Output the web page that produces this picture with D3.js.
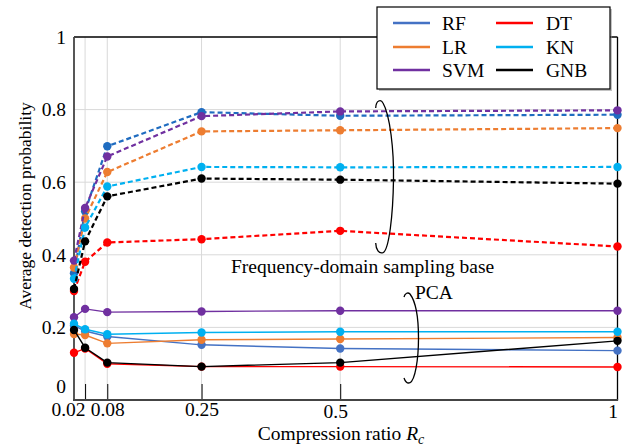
<!DOCTYPE html>
<html><head><meta charset="utf-8">
<script src="https://cdn.jsdelivr.net/npm/d3@7"></script>
<style>
body{margin:0;background:#fff}
svg{display:block}
svg text{font-family:"Liberation Serif","Tinos","Times New Roman","DejaVu Serif","Noto Serif",serif !important;fill:#000}
</style>
</head><body>
<svg id="c" width="630" height="446" font-family="Liberation Serif, DejaVu Serif, serif"></svg>
<script>
// ---------- data ----------
const ratios = [0.02, 0.04, 0.08, 0.25, 0.5, 1];
const xTickValues = [0.02, 0.04, 0.08, 0.25, 0.5, 1];
const xTickLabels = ["0.02", "", "0.08", "0.25", "0.5", "1"];
const yTickValues = [0, 0.2, 0.4, 0.6, 0.8, 1];
const yTickLabels = ["0", "0.2", "0.4", "0.6", "0.8", "1"];
const classifiers = ["RF", "LR", "SVM", "DT", "KN", "GNB"];

// Frequency-domain sampling base (dashed)
const fdRF  = [0.349, 0.520, 0.699, 0.793, 0.783, 0.786];
const fdLR  = [0.365, 0.500, 0.628, 0.740, 0.743, 0.749];
const fdSVM = [0.384, 0.529, 0.671, 0.782, 0.795, 0.798];
const fdDT  = [0.300, 0.381, 0.434, 0.443, 0.466, 0.423];
const fdKN  = [0.334, 0.475, 0.588, 0.642, 0.641, 0.642];
const fdGNB = [0.306, 0.437, 0.561, 0.610, 0.607, 0.596];

// PCA (solid)
const pcaRF  = [0.205, 0.190, 0.175, 0.152, 0.142, 0.136];
const pcaLR  = [0.182, 0.179, 0.156, 0.166, 0.168, 0.172];
const pcaSVM = [0.228, 0.251, 0.242, 0.244, 0.246, 0.246];
const pcaDT  = [0.130, 0.142, 0.100, 0.092, 0.092, 0.091];
const pcaKN  = [0.210, 0.195, 0.181, 0.186, 0.188, 0.188];
const pcaGNB = [0.193, 0.144, 0.103, 0.092, 0.103, 0.163];

// ---------- styles ----------
const colors = {RF:"#4472C4", LR:"#ED7D31", SVM:"#7030A0", DT:"#FF0000", KN:"#00B0F0", GNB:"#000000"};
const dashColors = {RF:"#1F6CC0", LR:"#ED7D31", SVM:"#7030A0", DT:"#FF0000", KN:"#00B0F0", GNB:"#000000"};
const fdData  = {RF:fdRF, LR:fdLR, SVM:fdSVM, DT:fdDT, KN:fdKN, GNB:fdGNB};
const pcaData = {RF:pcaRF, LR:pcaLR, SVM:pcaSVM, DT:pcaDT, KN:pcaKN, GNB:pcaGNB};
const FONT = '"Liberation Serif","Tinos","Times New Roman","DejaVu Serif",serif';
const FS = 19.5;

const L = 74, R = 617.5, T = 37, B = 400;
const svg = d3.select("#c");
const x = d3.scaleLinear().domain([0.02, 1]).range([L, R]);
const y = d3.scaleLinear().domain([0, 1]).range([B, T]);

// grid
const g = svg.append("g");
g.selectAll("line.vg").data(xTickValues.slice(1, -1)).join("line")
  .attr("x1", d => x(d)).attr("x2", d => x(d)).attr("y1", T).attr("y2", B)
  .attr("stroke", "#d9d9d9").attr("stroke-width", 1);
g.selectAll("line.hg").data(yTickValues.slice(1, -1)).join("line")
  .attr("x1", L).attr("x2", R).attr("y1", d => y(d)).attr("y2", d => y(d))
  .attr("stroke", "#d9d9d9").attr("stroke-width", 1);

// x axis
const xAxis = d3.axisBottom(x).tickValues(xTickValues)
  .tickFormat((d, i) => xTickLabels[i]).tickSize(-16).tickPadding(3);
const xa = svg.append("g").attr("transform", `translate(0,${B})`).call(xAxis);
xa.attr("font-family", null).attr("font-size", null);
xa.select(".domain").remove();
xa.selectAll(".tick line").attr("stroke", "#000").attr("stroke-width", 1)
  .attr("opacity", (d, i) => (i === 0 || i === xTickValues.length - 1) ? 0 : 1);
const xLabelShift = {"0.02": [-6, 0], "0.5": [-5, 2], "1": [-5, 2]};
xa.selectAll(".tick text").attr("font-size", FS).style("font-family", FONT)
  .attr("dx", (d, i) => (xLabelShift[xTickLabels[i]] || [0, 0])[0])
  .attr("y", (d, i) => 2 + (xLabelShift[xTickLabels[i]] || [0, 0])[1]);

// y axis
const yAxis = d3.axisLeft(y).tickValues(yTickValues)
  .tickFormat((d, i) => yTickLabels[i]).tickSize(0).tickPadding(8);
const ya = svg.append("g").attr("transform", `translate(${L},0)`).call(yAxis);
ya.attr("font-family", null).attr("font-size", null);
ya.select(".domain").remove();
ya.selectAll(".tick text").attr("font-size", FS).style("font-family", FONT)
  .attr("dy", (d, i) => yTickLabels[i] === "0" ? "-0.36em" : "0.32em");

// frame
svg.append("line").attr("x1", L).attr("x2", R).attr("y1", T).attr("y2", T).attr("stroke", "#000").attr("stroke-width", 1.3);
svg.append("line").attr("x1", R).attr("x2", R).attr("y1", T).attr("y2", B).attr("stroke", "#000").attr("stroke-width", 1.3);
svg.append("line").attr("x1", L).attr("x2", L).attr("y1", T).attr("y2", B + 1).attr("stroke", "#444").attr("stroke-width", 1.8);
svg.append("line").attr("x1", L - 1).attr("x2", R + 0.6).attr("y1", B).attr("y2", B).attr("stroke", "#444").attr("stroke-width", 2.2);

// lines
const line = d3.line().x((d, i) => x(ratios[i])).y(d => y(d));
const plot = svg.append("g");
classifiers.forEach(c => {
  plot.append("path").datum(pcaData[c]).attr("d", line)
    .attr("fill", "none").attr("stroke", colors[c]).attr("stroke-width", 1.4);
  plot.selectAll(null).data(pcaData[c]).join("circle")
    .attr("cx", (d, i) => x(ratios[i])).attr("cy", d => y(d)).attr("r", 4.2).attr("fill", colors[c]);
});
classifiers.forEach(c => {
  plot.append("path").datum(fdData[c]).attr("d", line)
    .attr("fill", "none").attr("stroke", dashColors[c]).attr("stroke-width", 2.2)
    .attr("stroke-dasharray", "5,3");
  plot.selectAll(null).data(fdData[c]).join("circle")
    .attr("cx", (d, i) => x(ratios[i])).attr("cy", d => y(d)).attr("r", 4.2).attr("fill", dashColors[c]);
});

// annotations
const p1 = d3.path();
p1.moveTo(375.7, 108);
p1.bezierCurveTo(376, 100, 381, 99, 383, 103);
p1.bezierCurveTo(390, 115, 394, 150, 393.5, 180);
p1.bezierCurveTo(393, 215, 389, 250, 383, 252.7);
p1.bezierCurveTo(379, 254, 376, 250, 375.7, 243);
svg.append("path").attr("d", p1.toString()).attr("fill", "none").attr("stroke", "#000").attr("stroke-width", 1.3);

const p2 = d3.path();
p2.moveTo(404, 297);
p2.bezierCurveTo(405, 293, 408, 292, 410, 294);
p2.bezierCurveTo(416, 302, 418.5, 320, 418.5, 338);
p2.bezierCurveTo(418.5, 360, 415, 380, 410, 382.7);
p2.bezierCurveTo(407, 384, 405, 381, 404, 378);
svg.append("path").attr("d", p2.toString()).attr("fill", "none").attr("stroke", "#000").attr("stroke-width", 1.3);

svg.append("text").attr("x", 231).attr("y", 273).attr("font-size", FS).style("font-family", FONT).text("Frequency-domain sampling base");
svg.append("text").attr("x", 415).attr("y", 299).attr("font-size", FS).style("font-family", FONT).text("PCA");

// axis titles
svg.append("text").attr("transform", "translate(31,206) rotate(-90)").attr("text-anchor", "middle")
  .attr("font-size", 17.5).style("font-family", FONT).text("Average detection probability");
const xt = svg.append("text").attr("x", 341).attr("y", 440).attr("text-anchor", "middle")
  .attr("font-size", FS).style("font-family", FONT);
xt.append("tspan").text("Compression ratio ");
xt.append("tspan").attr("font-style", "italic").text("R");
xt.append("tspan").attr("font-style", "italic").attr("font-size", 14).attr("dy", 4).text("c");

// legend
const lg = svg.append("g");
lg.append("rect").attr("x", 379).attr("y", 9).attr("width", 233).attr("height", 82).attr("fill", "#888").attr("opacity", 0.5);
lg.append("rect").attr("x", 377).attr("y", 7).attr("width", 233).attr("height", 82)
  .attr("fill", "#fff").attr("stroke", "#000").attr("stroke-width", 1.2);
const legCols = [[393, 442], [496, 546]];
const legRows = [23, 47, 70];
const legOrder = ["RF", "DT", "LR", "KN", "SVM", "GNB"];
legOrder.forEach((c, k) => {
  const col = legCols[k % 2], row = legRows[Math.floor(k / 2)];
  lg.append("line").attr("x1", col[0]).attr("x2", col[0] + 37).attr("y1", row).attr("y2", row)
    .attr("stroke", colors[c]).attr("stroke-width", 2.6);
  lg.append("text").attr("x", col[1]).attr("y", row).attr("dy", "0.35em").attr("font-size", FS)
    .style("font-family", FONT).text(c);
});
</script>
</body></html>
